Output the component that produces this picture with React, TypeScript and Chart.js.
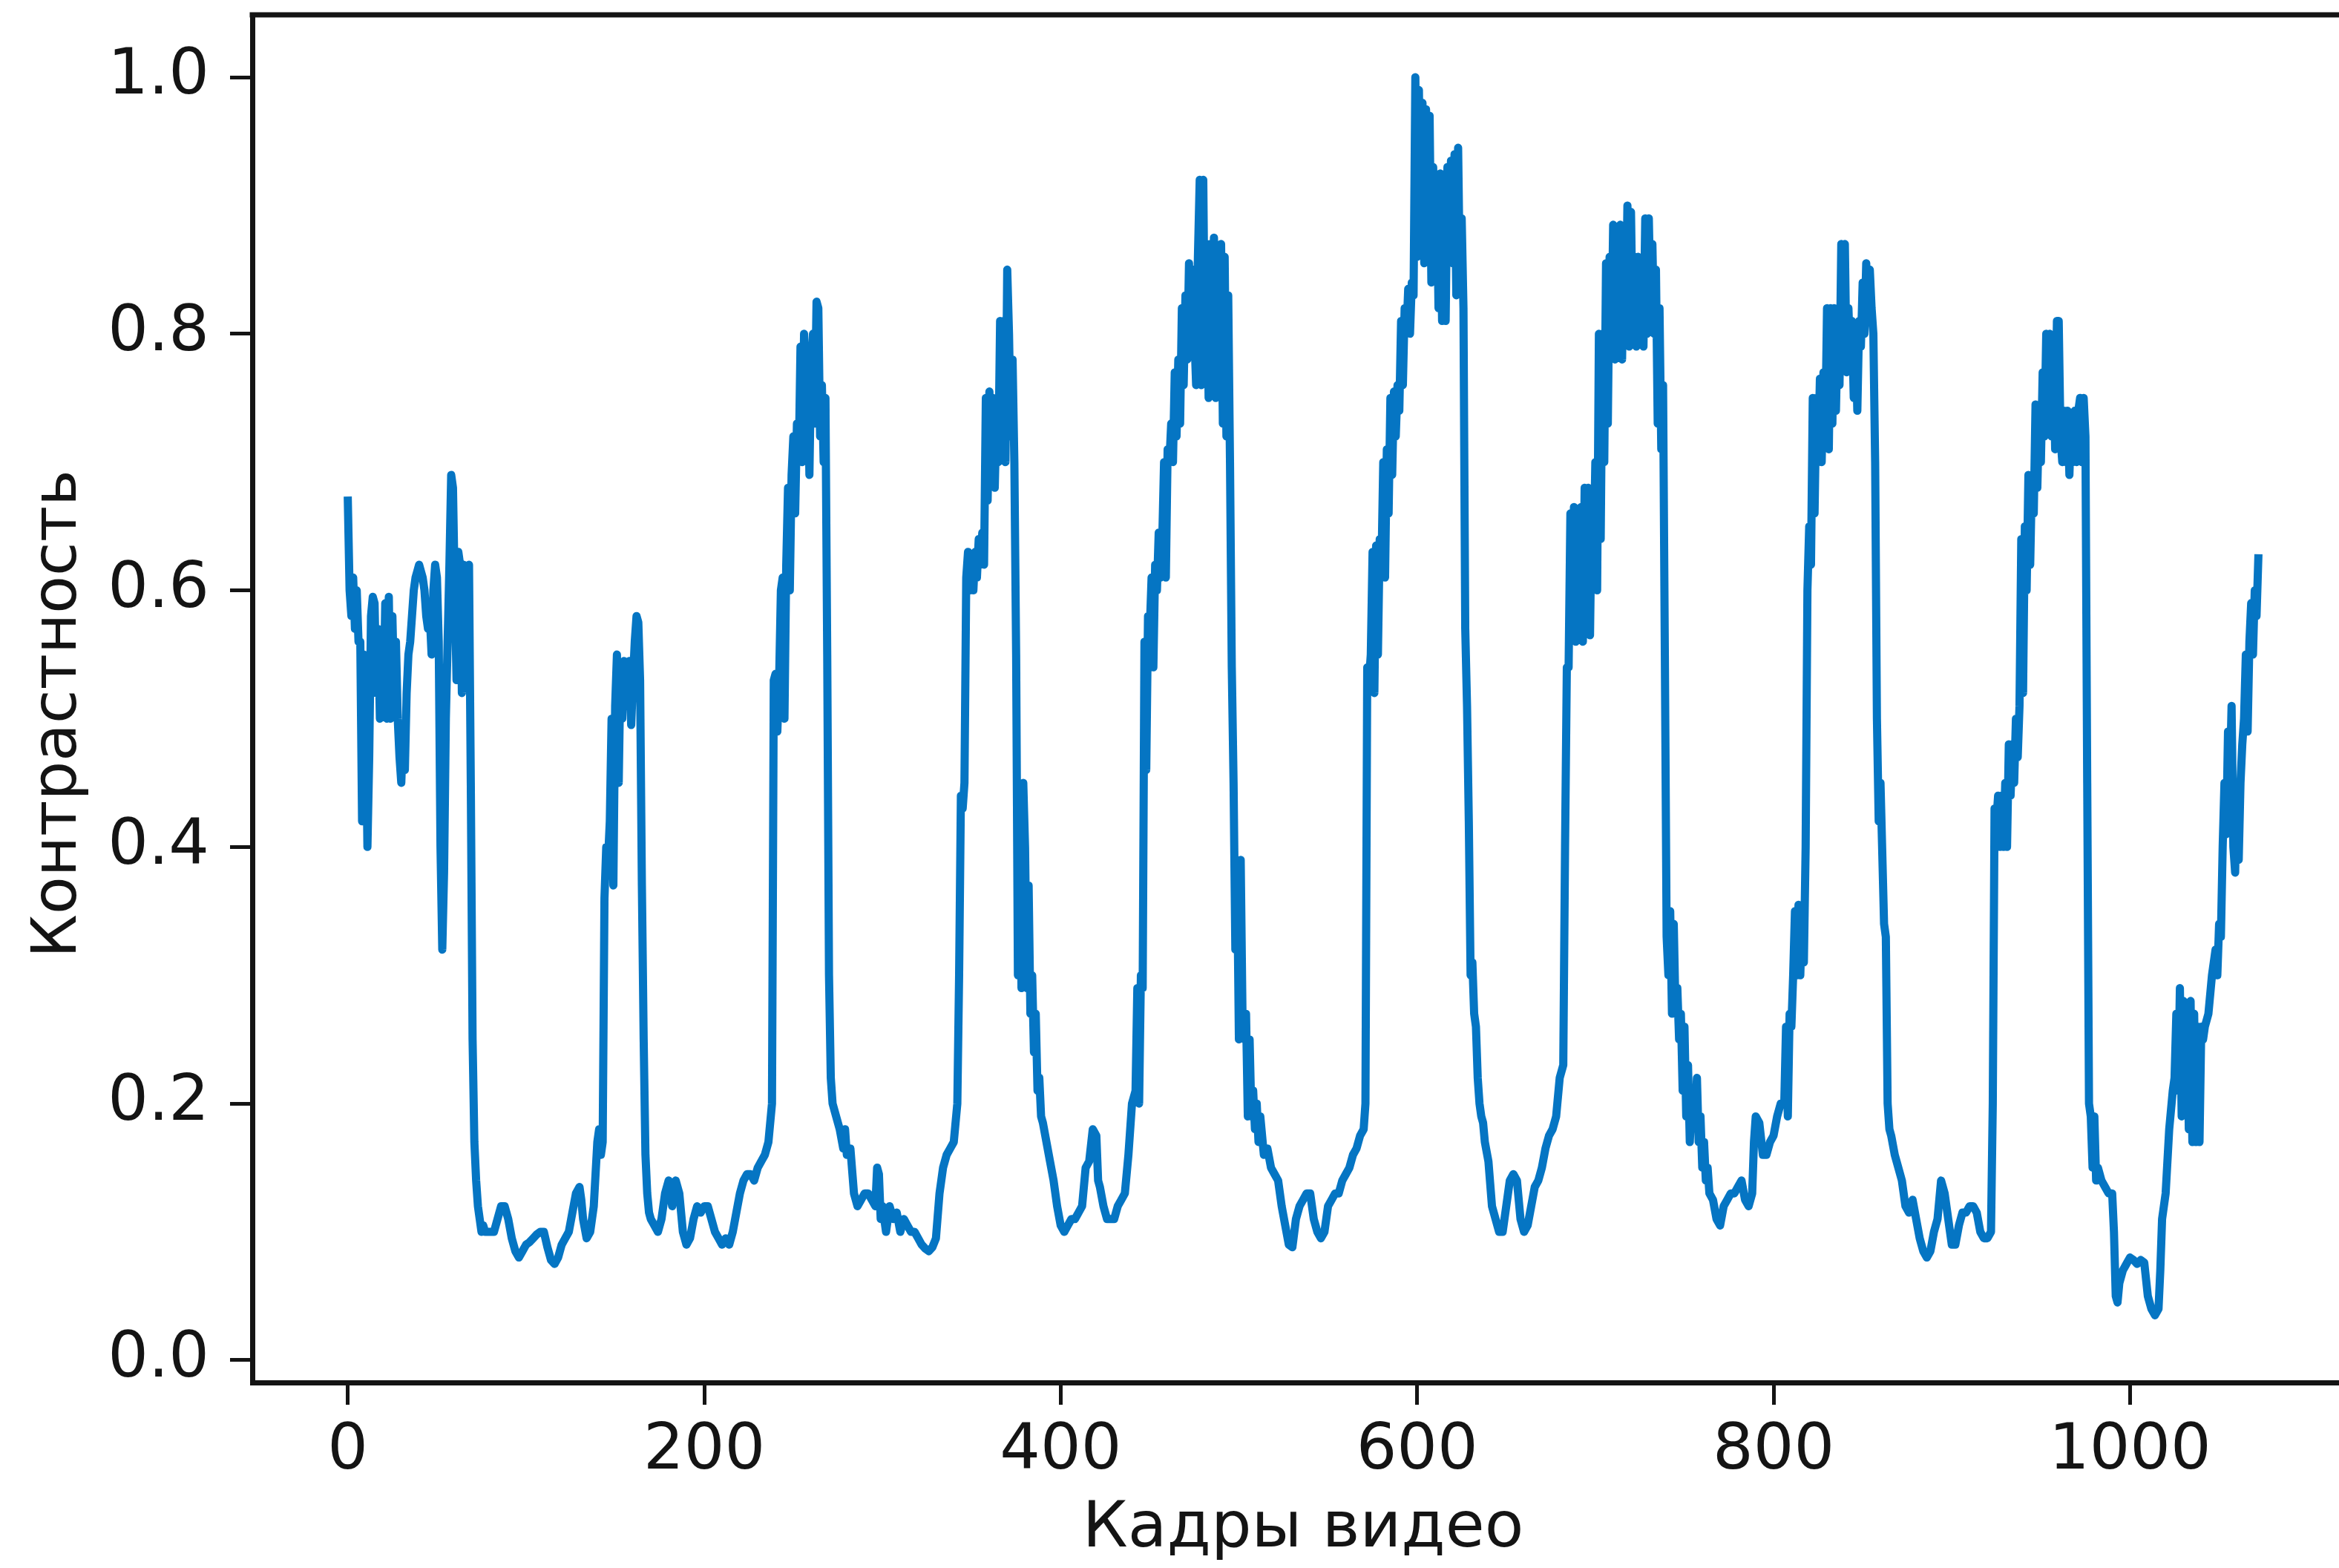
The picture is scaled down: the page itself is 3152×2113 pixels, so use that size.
import React, { useEffect, useRef } from "react";
import { Chart, registerables } from "chart.js";

Chart.register(...registerables);

// Axis texts and ticks
const xLabel = "Кадры видео";
const yLabel = "Контрастность";
const xTicks = [0, 200, 400, 600, 800, 1000];
const yTicks = [0, 0.2, 0.4, 0.6, 0.8, 1.0];

// [frame, contrast]
const frames0to104: [number, number][] = [
  [0, 0.67], [1, 0.6], [2, 0.58], [3, 0.61], [4, 0.57], [5, 0.6], [6, 0.56], [7, 0.56], [8, 0.42], [9, 0.55],
  [10, 0.52], [11, 0.4], [12, 0.47], [13, 0.58], [14, 0.595], [15, 0.59], [16, 0.52], [17, 0.57], [18, 0.5], [19, 0.56],
  [20, 0.51], [21, 0.59], [22, 0.5], [23, 0.595], [24, 0.5], [25, 0.58], [26, 0.52], [27, 0.56], [28, 0.5], [29, 0.47],
  [30, 0.45], [31, 0.49], [32, 0.46], [33, 0.52], [34, 0.55], [35, 0.56], [36, 0.58], [37, 0.6], [38, 0.61], [39, 0.615],
  [40, 0.62], [41, 0.615], [42, 0.61], [43, 0.6], [44, 0.58], [45, 0.57], [46, 0.58], [47, 0.55], [48, 0.6], [49, 0.62],
  [50, 0.61], [51, 0.56], [52, 0.4], [53, 0.32], [54, 0.38], [55, 0.5], [56, 0.56], [57, 0.62], [58, 0.69], [59, 0.68],
  [60, 0.6], [61, 0.53], [62, 0.63], [63, 0.62], [64, 0.52], [65, 0.62], [66, 0.6], [67, 0.53], [68, 0.62], [69, 0.45],
  [70, 0.25], [71, 0.17], [72, 0.14], [73, 0.12], [74, 0.11], [75, 0.1], [76, 0.105], [77, 0.1], [78, 0.1], [80, 0.1],
  [82, 0.1], [84, 0.11], [86, 0.12], [88, 0.12], [90, 0.11], [92, 0.095], [94, 0.085], [96, 0.08], [98, 0.085], [100, 0.09],
  [102, 0.092], [104, 0.095],
];

const frames106to212: [number, number][] = [
  [106, 0.098], [108, 0.1], [110, 0.1], [112, 0.088], [114, 0.078], [116, 0.075], [118, 0.08], [120, 0.09], [122, 0.095],
  [124, 0.1], [126, 0.115], [128, 0.13], [130, 0.135], [131, 0.125], [132, 0.11], [134, 0.095], [136, 0.1], [138, 0.12],
  [140, 0.17], [141, 0.18], [142, 0.16], [143, 0.17], [144, 0.36], [145, 0.4], [146, 0.39], [147, 0.42], [148, 0.5],
  [149, 0.37], [150, 0.51], [151, 0.55], [152, 0.45], [153, 0.54], [154, 0.5], [155, 0.545], [156, 0.51], [157, 0.53],
  [158, 0.545], [159, 0.495], [160, 0.53], [161, 0.56], [162, 0.58], [163, 0.575], [164, 0.53], [165, 0.37], [166, 0.25],
  [167, 0.16], [168, 0.13], [169, 0.115], [170, 0.11], [172, 0.105], [174, 0.1], [176, 0.11], [178, 0.13], [180, 0.14],
  [182, 0.12], [184, 0.14], [186, 0.13], [188, 0.1], [190, 0.09], [192, 0.095], [194, 0.11], [196, 0.12], [198, 0.115],
  [200, 0.12], [202, 0.12], [204, 0.11], [206, 0.1], [208, 0.095], [210, 0.09], [212, 0.095],
];

const frames214to320: [number, number][] = [
  [214, 0.09], [216, 0.1], [218, 0.115], [220, 0.13], [222, 0.14], [224, 0.145], [226, 0.145], [228, 0.14], [230, 0.15],
  [232, 0.155], [234, 0.16], [236, 0.17], [238, 0.2], [239, 0.53], [240, 0.535], [241, 0.49], [242, 0.53], [243, 0.6],
  [244, 0.61], [245, 0.5], [246, 0.62], [247, 0.68], [248, 0.6], [249, 0.69], [250, 0.72], [251, 0.66], [252, 0.73],
  [253, 0.7], [254, 0.79], [255, 0.7], [256, 0.8], [257, 0.72], [258, 0.79], [259, 0.69], [260, 0.78], [261, 0.8],
  [262, 0.73], [263, 0.825], [264, 0.82], [265, 0.72], [266, 0.76], [267, 0.7], [268, 0.75], [269, 0.55], [270, 0.3],
  [271, 0.22], [272, 0.2], [274, 0.19], [276, 0.18], [278, 0.165], [279, 0.18], [280, 0.16], [282, 0.165], [284, 0.13],
  [286, 0.12], [288, 0.125], [290, 0.13], [292, 0.13], [294, 0.125], [296, 0.12], [297, 0.15], [298, 0.145], [299, 0.11],
  [300, 0.12], [302, 0.1], [304, 0.12], [306, 0.11], [308, 0.115], [310, 0.1], [312, 0.11], [314, 0.105], [316, 0.1],
  [318, 0.1], [320, 0.095],
];

const frames322to428: [number, number][] = [
  [322, 0.09], [324, 0.087], [326, 0.085], [328, 0.088], [330, 0.095], [332, 0.13], [334, 0.15], [336, 0.16], [338, 0.165],
  [340, 0.17], [342, 0.2], [343, 0.3], [344, 0.44], [345, 0.43], [346, 0.45], [347, 0.61], [348, 0.63], [349, 0.6],
  [350, 0.625], [351, 0.6], [352, 0.63], [353, 0.61], [354, 0.64], [355, 0.62], [356, 0.645], [357, 0.62], [358, 0.75],
  [359, 0.67], [360, 0.755], [361, 0.69], [362, 0.75], [363, 0.68], [364, 0.74], [365, 0.7], [366, 0.81], [367, 0.73],
  [368, 0.81], [369, 0.7], [370, 0.85], [371, 0.8], [372, 0.72], [373, 0.78], [374, 0.7], [375, 0.55], [376, 0.3],
  [377, 0.44], [378, 0.29], [379, 0.45], [380, 0.4], [381, 0.29], [382, 0.37], [383, 0.27], [384, 0.3], [385, 0.24],
  [386, 0.27], [387, 0.21], [388, 0.22], [389, 0.19], [390, 0.185], [392, 0.17], [394, 0.155], [396, 0.14], [398, 0.12],
  [400, 0.105], [402, 0.1], [404, 0.105], [406, 0.11], [408, 0.11], [410, 0.115], [412, 0.12], [414, 0.15], [416, 0.155],
  [418, 0.18], [420, 0.175], [421, 0.14], [422, 0.135], [424, 0.12], [426, 0.11], [428, 0.11],
];

const frames430to534: [number, number][] = [
  [430, 0.11], [432, 0.12], [434, 0.125], [436, 0.13], [438, 0.16], [440, 0.2], [442, 0.21], [443, 0.29], [444, 0.2],
  [445, 0.3], [446, 0.29], [447, 0.56], [448, 0.46], [449, 0.58], [450, 0.57], [451, 0.61], [452, 0.54], [453, 0.62],
  [454, 0.6], [455, 0.645], [456, 0.61], [457, 0.64], [458, 0.7], [459, 0.61], [460, 0.71], [461, 0.7], [462, 0.73],
  [463, 0.7], [464, 0.77], [465, 0.72], [466, 0.78], [467, 0.73], [468, 0.82], [469, 0.76], [470, 0.83], [471, 0.78],
  [472, 0.855], [473, 0.79], [474, 0.85], [475, 0.8], [476, 0.76], [477, 0.86], [478, 0.92], [479, 0.76], [480, 0.92],
  [481, 0.77], [482, 0.87], [483, 0.75], [484, 0.87], [485, 0.76], [486, 0.875], [487, 0.75], [488, 0.86], [489, 0.76],
  [490, 0.87], [491, 0.73], [492, 0.86], [493, 0.72], [494, 0.83], [495, 0.7], [496, 0.54], [497, 0.45], [498, 0.32],
  [499, 0.38], [500, 0.25], [501, 0.39], [502, 0.27], [503, 0.25], [504, 0.27], [505, 0.19], [506, 0.25], [507, 0.19],
  [508, 0.21], [509, 0.18], [510, 0.2], [511, 0.17], [512, 0.19], [514, 0.16], [516, 0.165], [518, 0.15], [520, 0.145],
  [522, 0.14], [524, 0.12], [526, 0.105], [528, 0.09], [530, 0.088], [532, 0.11], [534, 0.12],
];

const frames536to646: [number, number][] = [
  [536, 0.125], [538, 0.13], [540, 0.13], [542, 0.11], [544, 0.1], [546, 0.095], [548, 0.1], [550, 0.12], [552, 0.125],
  [554, 0.13], [556, 0.13], [558, 0.14], [560, 0.145], [562, 0.15], [564, 0.16], [566, 0.165], [568, 0.175], [570, 0.18],
  [571, 0.2], [572, 0.54], [573, 0.53], [574, 0.55], [575, 0.63], [576, 0.52], [577, 0.635], [578, 0.55], [579, 0.64],
  [580, 0.62], [581, 0.7], [582, 0.61], [583, 0.71], [584, 0.66], [585, 0.75], [586, 0.69], [587, 0.755], [588, 0.72],
  [589, 0.76], [590, 0.74], [591, 0.81], [592, 0.76], [593, 0.82], [594, 0.8], [595, 0.835], [596, 0.8], [597, 0.84],
  [598, 0.83], [599, 1.0], [600, 0.86], [601, 0.99], [602, 0.87], [603, 0.98], [604, 0.855], [605, 0.975], [606, 0.86],
  [607, 0.97], [608, 0.84], [609, 0.93], [610, 0.85], [611, 0.92], [612, 0.82], [613, 0.925], [614, 0.81], [615, 0.915],
  [616, 0.81], [617, 0.93], [618, 0.86], [619, 0.935], [620, 0.855], [621, 0.94], [622, 0.83], [623, 0.945], [624, 0.84],
  [625, 0.89], [626, 0.82], [627, 0.57], [628, 0.51], [629, 0.42], [630, 0.3], [631, 0.31], [632, 0.27], [633, 0.26],
  [634, 0.22], [635, 0.2], [636, 0.19], [637, 0.185], [638, 0.17], [640, 0.155], [642, 0.12], [644, 0.11], [646, 0.1],
];

const frames648to754: [number, number][] = [
  [648, 0.1], [650, 0.12], [652, 0.14], [654, 0.145], [656, 0.14], [658, 0.11], [660, 0.1], [662, 0.105], [664, 0.12],
  [666, 0.135], [668, 0.14], [670, 0.15], [672, 0.165], [674, 0.175], [676, 0.18], [678, 0.19], [680, 0.22], [682, 0.23],
  [683, 0.4], [684, 0.54], [685, 0.54], [686, 0.66], [687, 0.57], [688, 0.665], [689, 0.56], [690, 0.66], [691, 0.58],
  [692, 0.665], [693, 0.56], [694, 0.68], [695, 0.59], [696, 0.68], [697, 0.565], [698, 0.67], [699, 0.62], [700, 0.7],
  [701, 0.6], [702, 0.8], [703, 0.64], [704, 0.8], [705, 0.7], [706, 0.855], [707, 0.73], [708, 0.86], [709, 0.79],
  [710, 0.885], [711, 0.78], [712, 0.88], [713, 0.79], [714, 0.885], [715, 0.78], [716, 0.875], [717, 0.8], [718, 0.9],
  [719, 0.79], [720, 0.895], [721, 0.8], [722, 0.86], [723, 0.79], [724, 0.86], [725, 0.8], [726, 0.84], [727, 0.79],
  [728, 0.89], [729, 0.8], [730, 0.89], [731, 0.82], [732, 0.87], [733, 0.8], [734, 0.85], [735, 0.73], [736, 0.82],
  [737, 0.71], [738, 0.76], [739, 0.55], [740, 0.33], [741, 0.3], [742, 0.35], [743, 0.27], [744, 0.34], [745, 0.27],
  [746, 0.29], [747, 0.25], [748, 0.27], [749, 0.21], [750, 0.26], [751, 0.19], [752, 0.23], [753, 0.17], [754, 0.2],
];

const frames756to860: [number, number][] = [
  [756, 0.19], [757, 0.22], [758, 0.17], [759, 0.19], [760, 0.15], [761, 0.17], [762, 0.14], [763, 0.15], [764, 0.13],
  [766, 0.125], [768, 0.11], [770, 0.105], [772, 0.12], [774, 0.125], [776, 0.13], [778, 0.13], [780, 0.135], [782, 0.14],
  [784, 0.125], [786, 0.12], [788, 0.13], [789, 0.17], [790, 0.19], [792, 0.185], [794, 0.16], [796, 0.16], [798, 0.17],
  [800, 0.175], [802, 0.19], [804, 0.2], [806, 0.2], [807, 0.26], [808, 0.19], [809, 0.27], [810, 0.26], [811, 0.3],
  [812, 0.35], [813, 0.3], [814, 0.355], [815, 0.3], [816, 0.35], [817, 0.31], [818, 0.4], [819, 0.6], [820, 0.65],
  [821, 0.62], [822, 0.75], [823, 0.66], [824, 0.75], [825, 0.7], [826, 0.765], [827, 0.7], [828, 0.77], [829, 0.72],
  [830, 0.82], [831, 0.71], [832, 0.82], [833, 0.73], [834, 0.82], [835, 0.74], [836, 0.81], [837, 0.76], [838, 0.87],
  [839, 0.78], [840, 0.87], [841, 0.77], [842, 0.82], [843, 0.78], [844, 0.81], [845, 0.75], [846, 0.8], [847, 0.74],
  [848, 0.81], [849, 0.79], [850, 0.84], [851, 0.8], [852, 0.855], [853, 0.81], [854, 0.85], [855, 0.82], [856, 0.8],
  [857, 0.7], [858, 0.5], [859, 0.42], [860, 0.45],
];

const frames862to970: [number, number][] = [
  [862, 0.34], [863, 0.33], [864, 0.2], [865, 0.18], [866, 0.175], [868, 0.16], [870, 0.15], [872, 0.14], [874, 0.12],
  [876, 0.115], [878, 0.125], [880, 0.11], [882, 0.095], [884, 0.085], [886, 0.08], [888, 0.085], [890, 0.1], [892, 0.11],
  [894, 0.14], [896, 0.13], [898, 0.11], [900, 0.09], [902, 0.09], [904, 0.105], [906, 0.115], [908, 0.115], [910, 0.12],
  [912, 0.12], [914, 0.115], [916, 0.1], [918, 0.095], [920, 0.095], [922, 0.1], [923, 0.2], [924, 0.43], [925, 0.42],
  [926, 0.44], [927, 0.4], [928, 0.44], [929, 0.4], [930, 0.45], [931, 0.4], [932, 0.48], [933, 0.44], [934, 0.48],
  [935, 0.45], [936, 0.5], [937, 0.47], [938, 0.51], [939, 0.64], [940, 0.52], [941, 0.65], [942, 0.6], [943, 0.69],
  [944, 0.62], [945, 0.69], [946, 0.66], [947, 0.745], [948, 0.68], [949, 0.74], [950, 0.7], [951, 0.77], [952, 0.72],
  [953, 0.8], [954, 0.73], [955, 0.8], [956, 0.72], [957, 0.795], [958, 0.71], [959, 0.81], [960, 0.81], [961, 0.72],
  [962, 0.7], [963, 0.74], [964, 0.7], [965, 0.74], [966, 0.69], [967, 0.735], [968, 0.7], [969, 0.74], [970, 0.7],
];

const frames971to1072: [number, number][] = [
  [971, 0.74], [972, 0.75], [973, 0.7], [974, 0.75], [975, 0.72], [976, 0.45], [977, 0.2], [978, 0.19], [979, 0.15],
  [980, 0.19], [981, 0.14], [982, 0.15], [984, 0.14], [986, 0.135], [988, 0.13], [990, 0.13], [991, 0.1], [992, 0.05],
  [993, 0.045], [994, 0.06], [996, 0.07], [998, 0.075], [1000, 0.08], [1002, 0.078], [1004, 0.075], [1006, 0.078],
  [1008, 0.076], [1010, 0.05], [1012, 0.04], [1014, 0.035], [1016, 0.04], [1017, 0.07], [1018, 0.11], [1019, 0.12],
  [1020, 0.13], [1022, 0.18], [1024, 0.21], [1025, 0.22], [1026, 0.27], [1027, 0.21], [1028, 0.29], [1029, 0.19],
  [1030, 0.28], [1031, 0.2], [1032, 0.27], [1033, 0.18], [1034, 0.28], [1035, 0.17], [1036, 0.27], [1037, 0.17],
  [1038, 0.26], [1039, 0.17], [1040, 0.26], [1041, 0.25], [1042, 0.26], [1044, 0.27], [1046, 0.3], [1048, 0.32],
  [1049, 0.3], [1050, 0.34], [1051, 0.33], [1052, 0.4], [1053, 0.45], [1054, 0.41], [1055, 0.49], [1056, 0.45],
  [1057, 0.51], [1058, 0.4], [1059, 0.38], [1060, 0.45], [1061, 0.39], [1062, 0.45], [1063, 0.48], [1064, 0.5],
  [1065, 0.55], [1066, 0.49], [1067, 0.56], [1068, 0.59], [1069, 0.55], [1070, 0.6], [1071, 0.58], [1072, 0.625],
];

const segments = [
  frames0to104, frames106to212, frames214to320, frames322to428, frames430to534,
  frames536to646, frames648to754, frames756to860, frames862to970, frames971to1072,
];

const CANVAS_W = 3200;
const CANVAS_H = 2113;
const AREA = { left: 340, top: 20, right: 3172, bottom: 1863 };
const INK = "#141414";
const FAMILY = "'DejaVu Sans', sans-serif";
const FONT = { family: FAMILY, size: 86 };

export default function App() {
  const ref = useRef<HTMLCanvasElement>(null);

  useEffect(() => {
    const canvas = ref.current;
    if (!canvas) return;
    const points = segments.flat().map(([x, y]) => ({ x, y }));

    const framePlugin = {
      id: "topRightSpinesAndYTitle",
      afterDraw(chart: any) {
        const { ctx, chartArea } = chart;
        ctx.save();
        ctx.strokeStyle = INK;
        ctx.lineWidth = 7;
        ctx.lineCap = "square";
        ctx.beginPath();
        ctx.moveTo(chartArea.left, chartArea.top);
        ctx.lineTo(chartArea.right, chartArea.top);
        ctx.lineTo(chartArea.right, chartArea.bottom);
        ctx.stroke();
        ctx.restore();

        ctx.save();
        ctx.fillStyle = INK;
        ctx.font = `83px ${FAMILY}`;
        ctx.textAlign = "center";
        ctx.textBaseline = "middle";
        ctx.translate(80, 962);
        ctx.rotate(-Math.PI / 2);
        ctx.fillText(yLabel, 0, 0);
        ctx.restore();
      },
    };

    const chart = new Chart(canvas, {
      type: "line",
      data: {
        datasets: [
          {
            data: points,
            borderColor: "#0575c3",
            borderWidth: 11,
            pointRadius: 0,
            tension: 0,
            fill: false,
            borderJoinStyle: "round",
            borderCapStyle: "square",
          } as any,
        ],
      },
      options: {
        responsive: false,
        animation: false,
        devicePixelRatio: 1,
        layout: { padding: { left: 0, top: AREA.top, right: CANVAS_W - AREA.right, bottom: 0 } },
        plugins: { legend: { display: false }, tooltip: { enabled: false } },
        scales: {
          x: {
            type: "linear",
            min: -53.6,
            max: 1125.6,
            afterBuildTicks: (s: any) => {
              s.ticks = xTicks.map((v) => ({ value: v }));
            },
            afterFit: (s: any) => {
              s.height = CANVAS_H - AREA.bottom;
              s.paddingLeft = 0;
              s.paddingRight = 0;
            },
            grid: { display: true, drawOnChartArea: false, drawTicks: true, tickLength: 30, tickWidth: 5, tickColor: INK },
            border: { display: true, color: INK, width: 7 },
            ticks: {
              autoSkip: false,
              maxRotation: 0,
              minRotation: 0,
              padding: 12,
              color: INK,
              font: FONT,
              callback: (v: any) => String(v),
            },
            title: { display: true, text: xLabel, color: INK, font: FONT, padding: { top: 0, bottom: 0 } },
          },
          y: {
            type: "linear",
            min: -0.0174,
            max: 1.0486,
            afterBuildTicks: (s: any) => {
              s.ticks = yTicks.map((v) => ({ value: v }));
            },
            afterFit: (s: any) => {
              s.width = AREA.left;
              s.paddingTop = 0;
              s.paddingBottom = 0;
            },
            grid: { display: true, drawOnChartArea: false, drawTicks: true, tickLength: 30, tickWidth: 5, tickColor: INK },
            border: { display: true, color: INK, width: 7 },
            ticks: {
              autoSkip: false,
              padding: 28,
              color: INK,
              font: FONT,
              callback: (v: any) => Number(v).toFixed(1),
            },
            title: { display: false, text: yLabel },
          },
        },
      },
      plugins: [framePlugin],
    });
    return () => chart.destroy();
  }, []);

  return (
    <div
      style={{
        position: "fixed",
        left: 0,
        top: 0,
        width: "100vw",
        height: "100vh",
        overflow: "hidden",
        background: "#ffffff",
      }}
    >
      <canvas ref={ref} width={CANVAS_W} height={CANVAS_H} style={{ display: "block" }} />
    </div>
  );
}
